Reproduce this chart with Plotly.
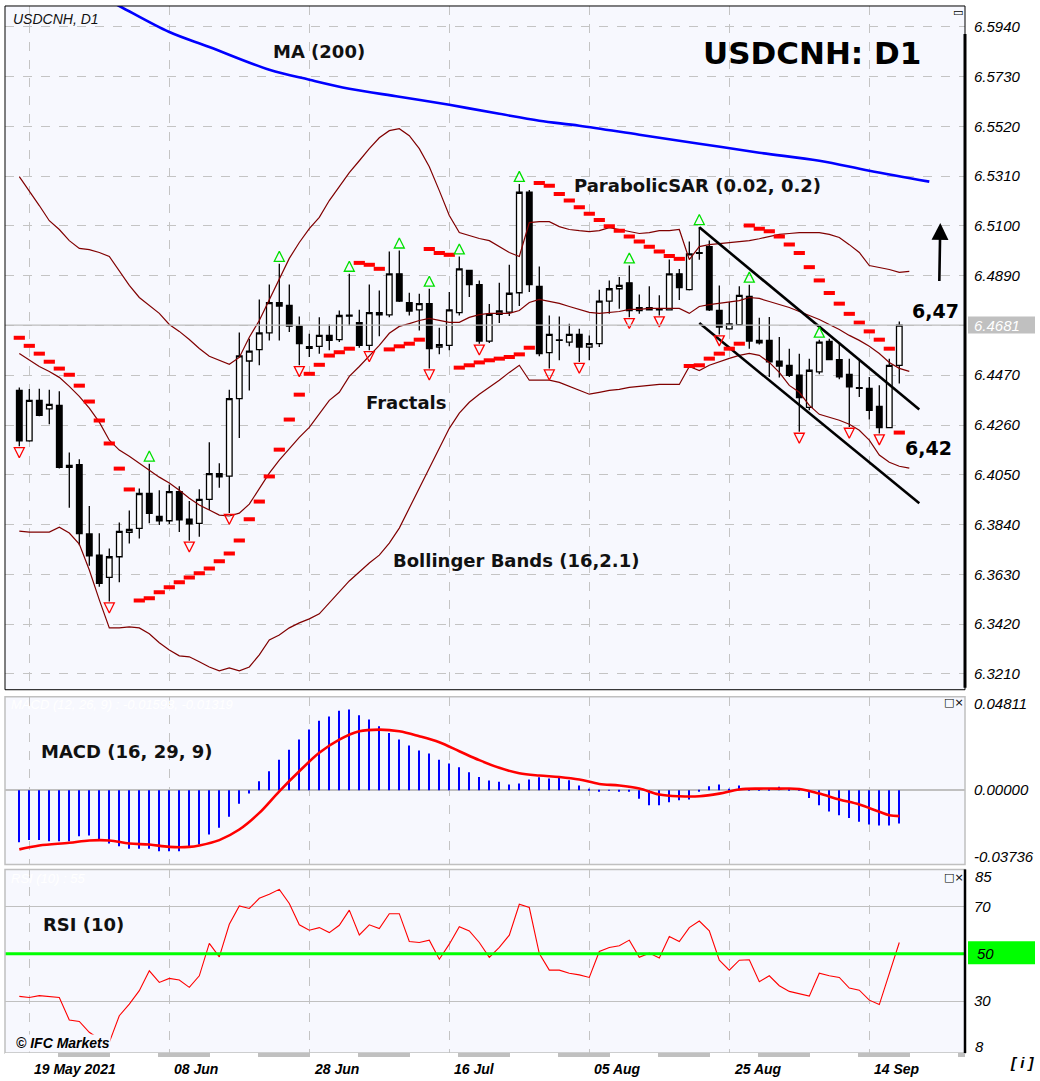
import plotly.graph_objects as go

W, H = 1040, 1081

# ---------------- data ----------------
bar_idx = list(range(89))
open_ = [6.4406, 6.4193, 6.4364, 6.4328, 6.4343, 6.4081, 6.4093, 6.3800, 6.3711, 6.3617,
         6.3704, 6.3807, 6.3824, 6.3971, 6.3874, 6.3856, 6.3979, 6.3863, 6.3845, 6.3946,
         6.4055, 6.4044, 6.4371, 6.4530, 6.4578, 6.4649, 6.4776, 6.4765, 6.4676, 6.4583,
         6.4592, 6.4638, 6.4620, 6.4720, 6.4692, 6.4596, 6.4734, 6.4725, 6.4898, 6.4776,
         6.4746, 6.4772, 6.4589, 6.4596, 6.4734, 6.4912, 6.4852, 6.4614, 6.4727, 6.4736,
         6.4818, 6.5242, 6.4845, 6.4565, 6.4619, 6.4610, 6.4642, 6.4589, 6.4603, 6.4783,
         6.4835, 6.4860, 6.4743, 6.4755, 6.4750, 6.4746, 6.4898, 6.4831, 6.4984, 6.5013,
         6.4744, 6.4666, 6.4683, 6.4803, 6.4607, 6.4617, 6.4529, 6.4512, 6.4470, 6.4334,
         6.4484, 6.4613, 6.4536, 6.4474, 6.4418, 6.4414, 6.4339, 6.4249, 6.4512]
high = [6.4418, 6.4412, 6.4413, 6.4409, 6.4402, 6.4144, 6.4116, 6.3918, 6.3803, 6.3739,
        6.3849, 6.3899, 6.3992, 6.4097, 6.3985, 6.4009, 6.4002, 6.3939, 6.3989, 6.4187,
        6.4099, 6.4409, 6.4650, 6.4624, 6.4790, 6.4853, 6.4940, 6.4853, 6.4718, 6.4645,
        6.4715, 6.4684, 6.4743, 6.4898, 6.4746, 6.4853, 6.4828, 6.4992, 6.4996, 6.4818,
        6.4814, 6.4835, 6.4670, 6.4821, 6.4971, 6.4915, 6.4870, 6.4771, 6.4860, 6.4936,
        6.5277, 6.5252, 6.4929, 6.4722, 6.4718, 6.4687, 6.4666, 6.4638, 6.4831, 6.4870,
        6.4884, 6.4933, 6.4811, 6.4845, 6.4807, 6.4958, 6.4918, 6.5034, 6.5095, 6.5038,
        6.4849, 6.4779, 6.4845, 6.4852, 6.4713, 6.4716, 6.4631, 6.4582, 6.4561, 6.4540,
        6.4620, 6.4624, 6.4603, 6.4540, 6.4533, 6.4463, 6.4428, 6.4540, 6.4697]
low = [6.4170, 6.4189, 6.4297, 6.4263, 6.4076, 6.3911, 6.3753, 6.3666, 6.3578, 6.3515,
       6.3596, 6.3760, 6.3781, 6.3845, 6.3838, 6.3842, 6.3809, 6.3772, 6.3788, 6.3901,
       6.3995, 6.3889, 6.4205, 6.4406, 6.4512, 6.4617, 6.4617, 6.4652, 6.4512, 6.4547,
       6.4561, 6.4575, 6.4610, 6.4680, 6.4586, 6.4575, 6.4635, 6.4715, 6.4779, 6.4722,
       6.4659, 6.4498, 6.4558, 6.4575, 6.4722, 6.4800, 6.4603, 6.4606, 6.4690, 6.4720,
       6.4762, 6.4821, 6.4550, 6.4498, 6.4533, 6.4592, 6.4526, 6.4533, 6.4589, 6.4729,
       6.4750, 6.4715, 6.4729, 6.4743, 6.4722, 6.4743, 6.4787, 6.4828, 6.4957, 6.4741,
       6.4642, 6.4662, 6.4680, 6.4582, 6.4600, 6.4463, 6.4460, 6.4463, 6.4231, 6.4322,
       6.4474, 6.4533, 6.4453, 6.4252, 6.4378, 6.4283, 6.4224, 6.4249, 6.4435]
close = [6.4193, 6.4364, 6.4301, 6.4347, 6.4081, 6.4090, 6.3802, 6.3708, 6.3592, 6.3704,
         6.3811, 6.3819, 6.3971, 6.3887, 6.3856, 6.3979, 6.3860, 6.3843, 6.3946, 6.4055,
         6.4041, 6.4371, 6.4552, 6.4572, 6.4649, 6.4776, 6.4762, 6.4677, 6.4603, 6.4591,
         6.4638, 6.4617, 6.4722, 6.4724, 6.4596, 6.4734, 6.4725, 6.4898, 6.4783, 6.4741,
         6.4772, 6.4582, 6.4599, 6.4746, 6.4919, 6.4852, 6.4614, 6.4727, 6.4741, 6.4816,
         6.5242, 6.4852, 6.4561, 6.4642, 6.4617, 6.4642, 6.4589, 6.4603, 6.4783, 6.4835,
         6.4849, 6.4743, 6.4755, 6.4746, 6.4746, 6.4898, 6.4840, 6.4982, 6.4987, 6.4746,
         6.4673, 6.4687, 6.4807, 6.4614, 6.4617, 6.4526, 6.4509, 6.4470, 6.4376, 6.4491,
         6.4610, 6.4536, 6.4463, 6.4421, 6.4415, 6.4322, 6.4249, 6.4512, 6.4681]

psar = [6.4628, 6.4594, 6.4561, 6.4527, 6.4498, 6.4472, 6.4426, 6.4359, 6.4279, 6.4182,
        6.4076, 6.3988, 6.3520, 6.3529, 6.3554, 6.3575, 6.3596, 6.3617, 6.3634, 6.3655,
        6.3685, 6.3718, 6.3773, 6.3862, 6.3937, 6.4043, 6.4156, 6.4283, 6.4388, 6.4476,
        6.4514, 6.4553, 6.4567, 6.4582, 6.4944, 6.4936, 6.4919, 6.4579, 6.4592, 6.4603,
        6.4620, 6.5003, 6.4986, 6.4978, 6.4502, 6.4512, 6.4524, 6.4533, 6.4540, 6.4547,
        6.4558, 6.4586, 6.5281, 6.5270, 6.5235, 6.5207, 6.5179, 6.5151, 6.5125, 6.5099,
        6.5080, 6.5055, 6.5034, 6.5012, 6.4992, 6.4973, 6.4961, 6.4509, 6.4512, 6.4540,
        6.4561, 6.4582, 6.4603, 6.5102, 6.5088, 6.5078, 6.5055, 6.5022, 6.4986, 6.4926,
        6.4870, 6.4817, 6.4772, 6.4729, 6.4692, 6.4655, 6.4620, 6.4582, 6.4228]

fractal_up_idx = [13, 26, 33, 38, 41, 44, 50, 61, 68, 73, 80]
fractal_dn_idx = [0, 9, 17, 21, 28, 35, 41, 46, 53, 56, 61, 64, 70, 78, 83, 86]

band_idx = list(range(90))
bb_upper = [6.5308, 6.5249, 6.5186, 6.5122, 6.5085, 6.5038, 6.5005, 6.5000, 6.4988, 6.4971,
            6.4912, 6.4849, 6.4798, 6.4765, 6.4731, 6.4684, 6.4655, 6.4621, 6.4583, 6.4550,
            6.4533, 6.4516, 6.4545, 6.4630, 6.4701, 6.4786, 6.4878, 6.4963, 6.5030, 6.5089,
            6.5136, 6.5207, 6.5266, 6.5325, 6.5375, 6.5426, 6.5472, 6.5502, 6.5510, 6.5481,
            6.5426, 6.5350, 6.5249, 6.5144, 6.5072, 6.5059, 6.5047, 6.5038, 6.5013, 6.4988,
            6.4971, 6.5114, 6.5118, 6.5118, 6.5097, 6.5085, 6.5080, 6.5076, 6.5080, 6.5093,
            6.5085, 6.5076, 6.5068, 6.5072, 6.5080, 6.5080, 6.5085, 6.4958, 6.5013, 6.5021,
            6.5025, 6.5029, 6.5034, 6.5038, 6.5046, 6.5055, 6.5064, 6.5068, 6.5072, 6.5072,
            6.5072, 6.5064, 6.5051, 6.5021, 6.4988, 6.4933, 6.4925, 6.4916, 6.4904, 6.4908]
bb_mid = [6.4562, 6.4533, 6.4507, 6.4486, 6.4461, 6.4423, 6.4381, 6.4331, 6.4272, 6.4196,
          6.4154, 6.4128, 6.4099, 6.4069, 6.4040, 6.4015, 6.3985, 6.3951, 6.3922, 6.3901,
          6.3880, 6.3876, 6.3888, 6.3926, 6.3994, 6.4057, 6.4112, 6.4162, 6.4208, 6.4250,
          6.4305, 6.4364, 6.4398, 6.4465, 6.4507, 6.4550, 6.4596, 6.4647, 6.4676, 6.4688,
          6.4701, 6.4710, 6.4701, 6.4693, 6.4693, 6.4714, 6.4726, 6.4731, 6.4731, 6.4731,
          6.4743, 6.4777, 6.4790, 6.4781, 6.4773, 6.4760, 6.4748, 6.4735, 6.4731, 6.4735,
          6.4739, 6.4748, 6.4748, 6.4752, 6.4752, 6.4752, 6.4752, 6.4731, 6.4760, 6.4768,
          6.4773, 6.4777, 6.4785, 6.4798, 6.4794, 6.4781, 6.4768, 6.4756, 6.4739, 6.4722,
          6.4705, 6.4684, 6.4663, 6.4638, 6.4617, 6.4592, 6.4562, 6.4524, 6.4499, 6.4486]
bb_lower = [6.3812, 6.3808, 6.3808, 6.3808, 6.3829, 6.3804, 6.3758, 6.3648, 6.3522, 6.3404,
            6.3404, 6.3408, 6.3404, 6.3379, 6.3341, 6.3311, 6.3286, 6.3282, 6.3261, 6.3239,
            6.3223, 6.3235, 6.3223, 6.3239, 6.3290, 6.3353, 6.3374, 6.3404, 6.3425, 6.3442,
            6.3463, 6.3509, 6.3556, 6.3602, 6.3640, 6.3678, 6.3711, 6.3762, 6.3825, 6.3909,
            6.3994, 6.4078, 6.4162, 6.4246, 6.4310, 6.4356, 6.4390, 6.4419, 6.4449, 6.4482,
            6.4512, 6.4449, 6.4449, 6.4449, 6.4440, 6.4423, 6.4406, 6.4390, 6.4398, 6.4406,
            6.4410, 6.4419, 6.4423, 6.4427, 6.4431, 6.4431, 6.4431, 6.4507, 6.4490, 6.4512,
            6.4528, 6.4541, 6.4554, 6.4562, 6.4554, 6.4524, 6.4482, 6.4427, 6.4398, 6.4343,
            6.4305, 6.4293, 6.4280, 6.4263, 6.4238, 6.4196, 6.4133, 6.4103, 6.4086, 6.4078]

ma200_idx = [8, 10, 15, 19, 25, 29, 33, 38, 43, 48, 52, 56, 62, 68, 74, 80, 85, 91]
ma200_val = [6.6072, 6.6028, 6.5918, 6.5855, 6.5759, 6.5717, 6.5679, 6.5645, 6.5611, 6.5573,
             6.5544, 6.5523, 6.5485, 6.5447, 6.5409, 6.5375, 6.5333, 6.5287]

macd_hist = [-0.0291, -0.0279, -0.0279, -0.0285, -0.0285, -0.0285, -0.0257, -0.0253, -0.0276, -0.0298,
             -0.0313, -0.0328, -0.0328, -0.0328, -0.0341, -0.0341, -0.0341, -0.0318, -0.0304, -0.0248,
             -0.0210, -0.0149, -0.0076, -0.0019, 0.0050, 0.0106, 0.0171, 0.0227, 0.0283, 0.0339,
             0.0389, 0.0413, 0.0445, 0.0451, 0.0419, 0.0395, 0.0358, 0.0320, 0.0283, 0.0250,
             0.0222, 0.0205, 0.0171, 0.0149, 0.0128, 0.0101, 0.0074, 0.0054, 0.0048, 0.0032,
             0.0037, 0.0060, 0.0073, 0.0065, 0.0069, 0.0056, 0.0026, 0.0004, -0.0004, 0.0002,
             -0.0003, -0.0008, -0.0048, -0.0084, -0.0084, -0.0067, -0.0056, -0.0052, -0.0008, 0.0022,
             0.0032, 0.0004, 0.0026, 0.0006, 0.0004, 0.0005, 0.0019, 0.0006, 0.0003, -0.0043,
             -0.0084, -0.0119, -0.0140, -0.0155, -0.0177, -0.0192, -0.0197, -0.0197, -0.0186]
signal_idx = [0, 2, 5, 7, 9, 11, 13, 15, 17, 18, 20, 22, 24, 26, 28, 30, 32, 34, 36, 38, 40, 42,
              44, 46, 48, 50, 52, 54, 56, 58, 60, 62, 64, 66, 68, 70, 72, 74, 76, 78, 80, 82,
              84, 86, 87, 88]
signal_val = [-0.0331, -0.0309, -0.0294, -0.0281, -0.0281, -0.0298, -0.0304, -0.0317, -0.0317,
              -0.0309, -0.0279, -0.0220, -0.0127, -0.0006, 0.0106, 0.0209, 0.0283, 0.0330, 0.0339,
              0.0330, 0.0302, 0.0268, 0.0218, 0.0168, 0.0125, 0.0095, 0.0082, 0.0074, 0.0060,
              0.0035, 0.0026, 0.0009, -0.0024, -0.0034, -0.0034, -0.0019, 0.0004, 0.0009, 0.0009,
              0.0007, -0.0019, -0.0052, -0.0080, -0.0121, -0.0140, -0.0145]

rsi = [32.0, 31.5, 32.3, 32.0, 31.5, 22.0, 21.4, 16.8, 14.0, 12.5,
       23.8, 28.7, 34.4, 42.8, 37.9, 39.6, 38.9, 35.8, 40.7, 54.4,
       48.7, 62.5, 70.3, 69.2, 73.5, 75.2, 77.3, 71.3, 62.3, 60.0,
       61.1, 59.0, 62.1, 68.5, 58.0, 62.3, 60.7, 67.0, 67.0, 55.2,
       54.8, 55.8, 47.7, 54.1, 61.5, 59.7, 54.8, 48.5, 52.7, 57.9,
       71.0, 69.6, 50.1, 43.1, 43.1, 41.8, 41.1, 40.0, 51.0, 52.7,
       53.4, 55.8, 48.5, 50.3, 48.2, 57.3, 55.2, 61.1, 63.9, 59.7,
       47.3, 43.1, 47.3, 47.5, 38.2, 40.7, 36.5, 34.1, 33.2, 32.1,
       41.8, 40.7, 40.0, 35.5, 34.6, 30.4, 28.5, 41.4, 54.8]

date_tick_idx = [1, 15, 29, 43, 57, 71, 85]
date_tick_text = ["19 May 2021", "08 Jun", "28 Jun", "16 Jul", "05 Aug", "25 Aug", "14 Sep"]

price_ticks = [6.5940, 6.5730, 6.5520, 6.5310, 6.5100, 6.4890, 6.4680,
               6.4470, 6.4260, 6.4050, 6.3840, 6.3630, 6.3420, 6.3210]
macd_ticks = [0.04811, 0.0, -0.03736]
macd_tick_text = ["0.04811", "0.00000", "-0.03736"]
rsi_ticks = [70, 50, 30]

channel_x = [68, 90]
channel_up = [6.5094, 6.4325]
channel_dn = [6.4690, 6.3930]
last_price = 6.4681
target_up, target_dn = "6,47", "6,42"

# ---------------- layout helpers ----------------
def px(x):
    return x / W

def py(y):
    return 1 - y / H

X_RANGE = [-1.43, 94.57]
BG = "#F7F8FE"
GRID = "#C4C4C4"
TICKFONT = dict(family="Liberation Sans", size=15, color="#000000", style="italic")
LABELFONT = dict(family="DejaVu Sans", size=18, color="#111111", weight="bold")

fig = go.Figure()

# Bollinger bands
for band in (bb_upper, bb_mid, bb_lower):
    fig.add_trace(go.Scatter(x=band_idx, y=band, mode="lines",
                             line=dict(color="#800000", width=1.2),
                             xaxis="x", yaxis="y", hoverinfo="skip"))

# MA 200
fig.add_trace(go.Scatter(x=ma200_idx, y=ma200_val, mode="lines", line_shape="spline",
                         line=dict(color="#0000FF", width=2.6), xaxis="x", yaxis="y"))

# channel
fig.add_trace(go.Scatter(x=channel_x, y=channel_up, mode="lines",
                         line=dict(color="#000000", width=2.6), xaxis="x", yaxis="y"))
fig.add_trace(go.Scatter(x=channel_x, y=channel_dn, mode="lines",
                         line=dict(color="#000000", width=2.6), xaxis="x", yaxis="y"))

# candles
fig.add_trace(go.Candlestick(
    x=bar_idx, open=open_, high=high, low=low, close=close,
    increasing=dict(line=dict(color="#000000", width=1.3), fillcolor="#FFFFFF"),
    decreasing=dict(line=dict(color="#000000", width=1.3), fillcolor="#000000"),
    whiskerwidth=0, xaxis="x", yaxis="y"))

# Parabolic SAR
fig.add_trace(go.Scatter(x=bar_idx, y=psar, mode="markers",
                         marker=dict(symbol="line-ew", size=8, color="#FF0000",
                                     line=dict(color="#FF0000", width=4)),
                         xaxis="x", yaxis="y"))

# fractals
fig.add_trace(go.Scatter(x=fractal_up_idx, y=[high[i] + 0.0053 for i in fractal_up_idx],
                         mode="markers",
                         marker=dict(symbol="arrow-up-open", size=10, color="#00E000",
                                     line=dict(color="#00E000", width=1.3)),
                         xaxis="x", yaxis="y"))
fig.add_trace(go.Scatter(x=fractal_dn_idx, y=[low[i] - 0.0048 for i in fractal_dn_idx],
                         mode="markers",
                         marker=dict(symbol="arrow-down-open", size=10, color="#FF0000",
                                     line=dict(color="#FF0000", width=1.3)),
                         xaxis="x", yaxis="y"))

# MACD
fig.add_trace(go.Bar(x=bar_idx, y=macd_hist, width=0.12, marker=dict(color="#0000FF", line=dict(width=0)),
                     xaxis="x2", yaxis="y2"))
fig.add_trace(go.Scatter(x=signal_idx, y=signal_val, mode="lines", line_shape="spline",
                         line=dict(color="#FF0000", width=2.6), xaxis="x2", yaxis="y2"))

# RSI
fig.add_trace(go.Scatter(x=bar_idx, y=rsi, mode="lines",
                         line=dict(color="#FF0000", width=1.1), xaxis="x3", yaxis="y3"))

xcommon = dict(range=X_RANGE, tickvals=date_tick_idx, showticklabels=False, showgrid=True,
               gridcolor=GRID, griddash="dash", gridwidth=1, zeroline=False, showline=False,
               ticks="", fixedrange=True)

fig.update_layout(
    width=W, height=H, margin=dict(l=0, r=0, t=0, b=0),
    paper_bgcolor="#FFFFFF", plot_bgcolor=BG, showlegend=False, boxgap=0.2,
    xaxis=dict(domain=[px(5), px(965)], anchor="y", rangeslider=dict(visible=False), **xcommon),
    xaxis2=dict(domain=[px(5), px(965)], anchor="y2", **xcommon),
    xaxis3=dict(domain=[px(5), px(965)], anchor="y3", **xcommon),
    yaxis=dict(domain=[py(690), py(5)], anchor="x", side="right", range=[6.3143, 6.6028],
               tickvals=price_ticks,
               ticktext=["" if abs(v - 6.4680) < 1e-6 else f"{v:.4f}" for v in price_ticks],
               showgrid=True, gridcolor=GRID, griddash="dash", zeroline=False, ticks="",
               tickfont=TICKFONT, ticklabelstandoff=8),
    yaxis2=dict(domain=[py(865), py(697)], anchor="x2", side="right", range=[-0.0415, 0.0523],
                tickvals=macd_ticks, ticktext=macd_tick_text, showgrid=False,
                zeroline=True, zerolinecolor="#C0C0C0", zerolinewidth=1.5, ticks="",
                tickfont=TICKFONT, ticklabelstandoff=8),
    yaxis3=dict(domain=[py(1054), py(870)], anchor="x3", side="right", range=[8.0, 85.75],
                tickvals=rsi_ticks, ticktext=["70", "", "30"], showgrid=True,
                gridcolor="#C0C0C0", gridwidth=1.2, zeroline=False, ticks="",
                tickfont=TICKFONT, ticklabelstandoff=8),
)

shapes = []
# current price line
shapes.append(dict(type="line", xref="paper", yref="y", x0=px(5), x1=px(965),
                   y0=last_price, y1=last_price, line=dict(color="#BDBDBD", width=1.3)))
# RSI 50 level
shapes.append(dict(type="line", xref="paper", yref="y3", x0=px(5), x1=px(965),
                   y0=50, y1=50, line=dict(color="#00FF00", width=3)))
# frames
shapes.append(dict(type="rect", xref="paper", yref="paper", x0=px(5), x1=px(965),
                   y0=py(690), y1=py(5), line=dict(color="#000000", width=1)))
shapes.append(dict(type="line", xref="paper", yref="paper", x0=px(965), x1=px(965),
                   y0=py(688), y1=py(33), line=dict(color="#000000", width=3)))
shapes.append(dict(type="rect", xref="paper", yref="paper", x0=px(5), x1=px(965),
                   y0=py(865), y1=py(697), line=dict(color="#C0C0C0", width=1.5)))
shapes.append(dict(type="rect", xref="paper", yref="paper", x0=px(5), x1=px(965),
                   y0=py(1054), y1=py(870), line=dict(color="#C0C0C0", width=1.5)))
shapes.append(dict(type="line", xref="paper", yref="paper", x0=px(965), x1=px(965),
                   y0=py(1054), y1=py(870), line=dict(color="#000000", width=2.5)))
# bottom strip
shapes.append(dict(type="line", xref="paper", yref="paper", x0=px(5), x1=px(965),
                   y0=py(1056), y1=py(1056), line=dict(color="#FFFFFF", width=4)))
shapes.append(dict(type="line", xref="paper", yref="paper", x0=px(58), x1=px(965),
                   y0=py(1056), y1=py(1056), line=dict(color="#C0C0C0", width=4, dash="52px,48px")))
# label boxes
shapes.append(dict(type="rect", xref="paper", yref="paper", x0=px(968), x1=px(1035),
                   y0=py(333), y1=py(316), fillcolor="#C0C0C0", line=dict(width=0)))
shapes.append(dict(type="rect", xref="paper", yref="paper", x0=px(968), x1=px(1035),
                   y0=py(965), y1=py(942), fillcolor="#00FF00", line=dict(width=0)))
fig.update_layout(shapes=shapes)

ann = []

def text(x, y, s, font, xanchor="left", yanchor="middle", **kw):
    ann.append(dict(x=px(x), y=py(y), xref="paper", yref="paper", text=s, showarrow=False,
                    xanchor=xanchor, yanchor=yanchor, font=font, **kw))

BIG = dict(family="DejaVu Sans", size=31, color="#000000", weight="bold")
text(11, 18, "USDCNH, D1", dict(family="Liberation Sans", size=14, color="#111111", style="italic"))
text(701, 52, "USDCNH: D1", BIG)
text(271, 51, "MA (200)", LABELFONT)
text(572, 185, "ParabolicSAR (0.02, 0.2)", LABELFONT)
text(364, 402, "Fractals", LABELFONT)
text(391, 561, "Bollinger Bands (16,2.1)", LABELFONT)
text(910, 311, target_up, dict(family="DejaVu Sans", size=19, color="#000000", weight="bold"))
text(903, 448, target_dn, dict(family="DejaVu Sans", size=19, color="#000000", weight="bold"))
text(39, 752, "MACD (16, 29, 9)", LABELFONT)
text(41, 925, "RSI (10)", LABELFONT)
text(9, 705, "MACD (12, 26, 9) : -0.01598, -0.01319",
     dict(family="Liberation Sans", size=13, color="#FFFFFF", style="italic"))
text(9, 879, "RSI (10) : 55", dict(family="Liberation Sans", size=13, color="#FFFFFF", style="italic"))
text(15, 1044, "© IFC Markets",
     dict(family="Liberation Sans", size=14, color="#000000", style="italic", weight="bold"),
     bgcolor=BG, borderpad=0)
text(972, 325, f"{last_price:.4f}", dict(family="Liberation Sans", size=15, color="#FFFFFF", style="italic"))
text(975, 954, "50", TICKFONT)
text(973, 877, "85", TICKFONT)
text(973, 1047, "8", TICKFONT)
text(958, 12, "▭", dict(family="DejaVu Sans", size=11, color="#000000"), xanchor="center")
text(954, 703, "□×", dict(family="DejaVu Sans", size=11, color="#000000"), xanchor="center")
text(954, 878, "□×", dict(family="DejaVu Sans", size=11, color="#000000"), xanchor="center")
text(1008, 1063, "[ i ]", dict(family="Liberation Sans", size=15, color="#000000", style="italic", weight="bold"))

DATEFONT = dict(family="Liberation Sans", size=14, color="#000000", style="italic", weight="bold")
for i, t in zip(date_tick_idx, date_tick_text):
    ann.append(dict(x=i + 0.3, y=py(1070), xref="x3", yref="paper", text=t, showarrow=False,
                    xanchor="left", yanchor="middle", font=DATEFONT))

# arrow
ann.append(dict(x=92.1, y=6.5112, xref="x", yref="y", ax=92.0, ay=6.4861, axref="x", ayref="y",
                text="", showarrow=True, arrowhead=2, arrowsize=1.3, arrowwidth=2.6,
                arrowcolor="#000000"))
fig.update_layout(annotations=ann)

fig.write_html("out.html", config={"displayModeBar": False},
               post_script="document.body.style.margin='0px';document.body.style.overflow='hidden';")
